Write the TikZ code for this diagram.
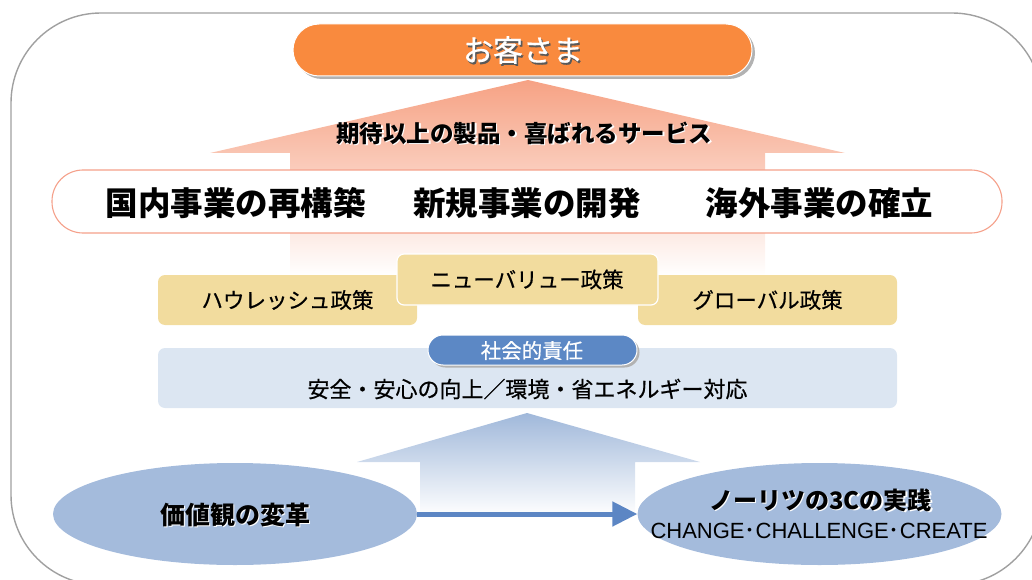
\documentclass[tikz,border=0pt]{standalone}
\usepackage{fontspec}
\setmainfont{Liberation Sans}
\newfontfamily\jp{Noto Sans CJK JP}
\newfontfamily\jpr[FakeBold=0.6]{Noto Sans CJK JP}
\usetikzlibrary{shapes.geometric,shadows,arrows.meta}
\definecolor{framegray}{RGB}{160,160,160}
\definecolor{custorange}{RGB}{249,138,62}
\definecolor{salmon}{RGB}{246,162,132}
\definecolor{salmonline}{RGB}{245,160,138}
\definecolor{policyyellow}{RGB}{242,220,158}
\definecolor{csrbg}{RGB}{220,230,242}
\definecolor{csrblue}{RGB}{92,136,197}
\definecolor{ovalblue}{RGB}{164,187,220}
\definecolor{arrowblue}{RGB}{92,134,196}
\definecolor{blueup}{RGB}{160,184,218}
\tikzset{
  frame/.style={draw=framegray, line width=1.4pt, rounded corners=90pt},
  custbox/.style={draw=white, line width=1pt, fill=custorange, rounded corners=26pt,
    minimum width=459pt, minimum height=52pt, inner sep=0pt,
    drop shadow={shadow xshift=3pt, shadow yshift=-3pt, fill=black!30, opacity=1}},
  bizbox/.style={draw=salmonline, line width=1.1pt, fill=white, rounded corners=31pt,
    minimum width=950pt, minimum height=63pt, inner sep=0pt},
  policy/.style={fill=policyyellow, rounded corners=7pt, minimum width=259pt,
    minimum height=50pt, inner sep=0pt},
  newpolicy/.style={policy, draw=white, line width=1.2pt, minimum width=261pt, minimum height=51pt},
  csrbox/.style={fill=csrbg, rounded corners=7pt, minimum width=739pt, minimum height=60pt, inner sep=0pt},
  csrlabel/.style={draw=white, line width=1pt, fill=csrblue, rounded corners=15pt,
    minimum width=209pt, minimum height=30pt, inner sep=0pt,
    drop shadow={shadow xshift=2.5pt, shadow yshift=-2.5pt, fill=black!30, opacity=1}},
  oval/.style={ellipse, fill=ovalblue, minimum width=364pt, minimum height=102pt, inner sep=0pt},
  hconn/.style={draw=arrowblue, line width=5pt, -{Triangle[length=25pt,width=24pt]}},
  txt/.style={inner sep=0pt, font=\jpr\fontsize{#1}{#1}\selectfont},
  btxt/.style={inner sep=0pt, font=\jp\bfseries\fontsize{#1}{#1}\selectfont},
}
\begin{document}
\begin{tikzpicture}[x=1pt,y=-1pt]
\useasboundingbox (0,0) rectangle (1032,580);
% outer frame
\draw[frame] (11,13) rectangle (1042,585);
% big salmon up arrow
\shade[top color=salmon, bottom color=white]
  (528,80) -- (845,153) -- (765,153) -- (765,276) -- (290,276) -- (290,153) -- (210,153) -- cycle;
% customer
\node[custbox] (cust) at (522.5,50) {};
\node[txt=30pt, text=black!65] (custsh) at (524.5,52) {お客さま};
\node[txt=30pt, text=white] (custtxt) at (523,50) {お客さま};
% service text
\node[btxt=23.5pt, text=white] (servsh) at (525.5,134.5) {期待以上の製品・喜ばれるサービス};
\node[btxt=23.5pt] (serv) at (524,133) {期待以上の製品・喜ばれるサービス};
% business box
\node[bizbox] (biz) at (527,201.5) {};
\node[btxt=32.5pt] (biz1) at (235.5,203) {国内事業の再構築};
\node[btxt=32.5pt] (biz2) at (527,203) {新規事業の開発};
\node[btxt=32.5pt] (biz3) at (819.5,203) {海外事業の確立};
% policies
\node[policy] (haus) at (287.5,300) {};
\node[txt=21.5pt] at (287.5,300) {ハウレッシュ政策};
\node[policy] (glob) at (767.5,300) {};
\node[txt=21.5pt] at (767.5,300) {グローバル政策};
\node[newpolicy] (newv) at (527.5,279.5) {};
\node[txt=21.5pt] at (527,279.5) {ニューバリュー政策};
% CSR
\node[csrbox] (csr) at (527.5,378) {};
\node[txt=22pt] (csrtxt) at (527.5,389) {安全・安心の向上／環境・省エネルギー対応};
\node[csrlabel] (csrlab) at (532.5,350) {};
\node[txt=20.5pt, text=white] (csrlabtxt) at (532,350.5) {社会的責任};
% blue up arrow
\shade[top color=blueup, bottom color=white]
  (527,413) -- (700,462) -- (635,462) -- (635,516) -- (420,516) -- (420,462) -- (357,462) -- cycle;
% ellipses
\node[oval] (val) at (235,514) {};
\node[btxt=25pt, text=white] (valsh) at (236.5,516) {価値観の変革};
\node[btxt=25pt] (valtxt) at (235.5,514.5) {価値観の変革};
\node[oval] (pract) at (819.5,514) {};
\node[btxt=24pt, text=white] (practsh) at (822,501.5) {ノーリツの3Cの実践};
\node[btxt=24pt] (practtxt) at (820.5,500) {ノーリツの3Cの実践};
\node[inner sep=0pt, font=\fontsize{22pt}{22pt}\selectfont] (ccc) at (819,531)
  {CHANGE{\jp ･}CHALLENGE{\jp ･}CREATE};
% connector
\draw[hconn] (val.east) -- (pract.west);
\end{tikzpicture}
\end{document}
